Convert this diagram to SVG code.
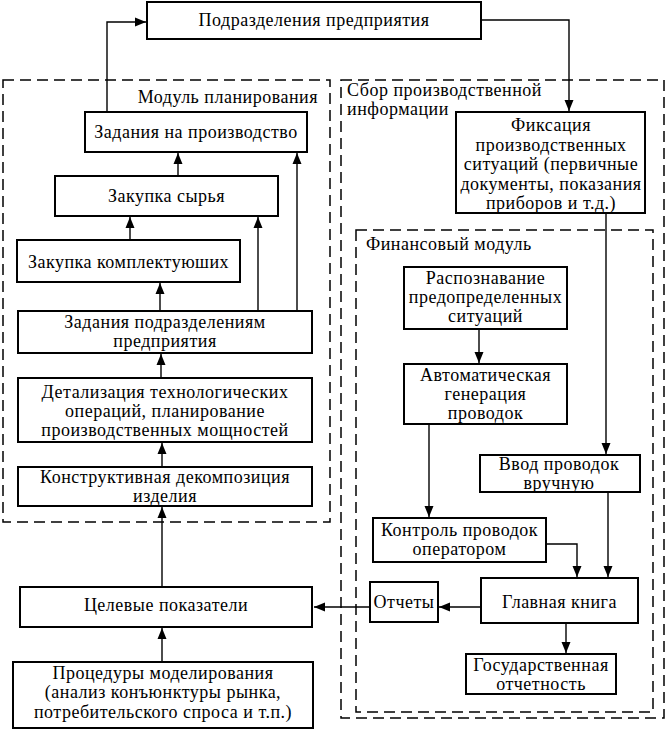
<svg xmlns="http://www.w3.org/2000/svg" width="665" height="731" viewBox="0 0 665 731">
<defs>
<marker id="ah" markerUnits="userSpaceOnUse" markerWidth="12" markerHeight="12" viewBox="0 0 12 12" refX="11" refY="6" orient="auto">
<path d="M0,1.5 L11,6 L0,10.5 Z" fill="#000"/>
</marker>
<style>
.box{fill:#fff;stroke:#000;stroke-width:2}
.grp{fill:none;stroke:#000;stroke-width:1.5;stroke-dasharray:11 6}
.t{font-family:"Liberation Serif","Times New Roman",serif;font-size:18px;letter-spacing:0.5px;fill:#000;text-anchor:middle}
.l{font-family:"Liberation Serif","Times New Roman",serif;font-size:18px;letter-spacing:0.5px;fill:#000}
.c{fill:none;stroke:#000;stroke-width:1.4;marker-end:url(#ah)}
</style>
</defs>
<rect width="665" height="731" fill="#fff"/>

<g id="group-planning">
<rect class="grp" x="3" y="80" width="327" height="442"/>
<text class="l" x="318" y="103" text-anchor="end">Модуль планирования</text>
</g>
<g id="group-collection">
<rect class="grp" x="341" y="80" width="323" height="638"/>
<text class="l" x="347" y="96">Сбор производственной</text>
<text class="l" x="347" y="115">информации</text>
</g>
<g id="group-finance">
<rect class="grp" x="356" y="230" width="297" height="482"/>
<text class="l" x="366" y="250">Финансовый модуль</text>
</g>

<g id="connectors">
<path class="c" d="M107,112 V22 H146"/>
<path class="c" d="M481,20 H569 V111"/>
<path class="c" d="M178,176 V153"/>
<path class="c" d="M297,311 V153"/>
<path class="c" d="M258,311 V217"/>
<path class="c" d="M130,240 V217"/>
<path class="c" d="M160,311 V283"/>
<path class="c" d="M161,378 V354"/>
<path class="c" d="M162,467 V443"/>
<path class="c" d="M162,587 V507"/>
<path class="c" d="M162,662 V628"/>
<path class="c" d="M370,607 H314"/>
<path class="c" d="M481,607 H439"/>
<path class="c" d="M606,213 V454"/>
<path class="c" d="M479,329 V363"/>
<path class="c" d="M429,424 V517"/>
<path class="c" d="M546,544 H577 V577"/>
<path class="c" d="M608,492 V577"/>
<path class="c" d="M566,623 V653"/>
</g>

<g id="n-podrazdeleniya">
<rect class="box" x="147" y="2" width="334" height="37"/>
<text class="t" x="314" y="26">Подразделения предприятия</text>
</g>
<g id="n-zadaniya-proizv">
<rect class="box" x="85" y="112" width="222" height="40"/>
<text class="t" x="196" y="138">Задания на производство</text>
</g>
<g id="n-zakupka-syrya">
<rect class="box" x="55" y="176" width="223" height="40"/>
<text class="t" x="166.5" y="202">Закупка сырья</text>
</g>
<g id="n-zakupka-kompl">
<rect class="box" x="17" y="240" width="223" height="42"/>
<text class="t" x="128.5" y="268">Закупка комплектуюших</text>
</g>
<g id="n-zadaniya-podr">
<rect class="box" x="18" y="311" width="294" height="42"/>
<text class="t" x="165" y="328">Задания подразделениям</text>
<text class="t" x="165" y="347">предприятия</text>
</g>
<g id="n-detalizaciya">
<rect class="box" x="18" y="378" width="294" height="64"/>
<text class="t" x="165" y="398">Детализация технологических</text>
<text class="t" x="165" y="417">операций, планирование</text>
<text class="t" x="165" y="436">производственных мощностей</text>
</g>
<g id="n-konstruktivnaya">
<rect class="box" x="18" y="467" width="294" height="39"/>
<text class="t" x="165" y="483">Конструктивная декомпозиция</text>
<text class="t" x="165" y="502">изделия</text>
</g>
<g id="n-celevye">
<rect class="box" x="20" y="587" width="292" height="40"/>
<text class="t" x="166" y="611">Целевые показатели</text>
</g>
<g id="n-procedury">
<rect class="box" x="13" y="662" width="300" height="66"/>
<text class="t" x="163" y="679">Процедуры моделирования</text>
<text class="t" x="163" y="698">(анализ конъюнктуры рынка,</text>
<text class="t" x="163" y="718">потребительского спроса и т.п.)</text>
</g>

<g id="n-fiksaciya">
<rect class="box" x="456" y="112" width="189" height="101"/>
<text class="t" x="551" y="131">Фиксация</text>
<text class="t" x="551" y="151">производственных</text>
<text class="t" x="551" y="170">ситуаций (первичные</text>
<text class="t" x="551" y="190">документы, показания</text>
<text class="t" x="551" y="209">приборов и т.д.)</text>
</g>
<g id="n-raspoznavanie">
<rect class="box" x="404" y="267" width="163" height="62"/>
<text class="t" x="485.5" y="284">Распознавание</text>
<text class="t" x="485.5" y="303">предопределенных</text>
<text class="t" x="485.5" y="322">ситуаций</text>
</g>
<g id="n-avtomaticheskaya">
<rect class="box" x="404" y="364" width="163" height="60"/>
<text class="t" x="485.5" y="381">Автоматическая</text>
<text class="t" x="485.5" y="400">генерация</text>
<text class="t" x="485.5" y="419">проводок</text>
</g>
<g id="n-vvod">
<rect class="box" x="480" y="455" width="160" height="37"/>
<text class="t" x="559" y="470">Ввод проводок</text>
<text class="t" x="559" y="489">вручную</text>
</g>
<g id="n-kontrol">
<rect class="box" x="373" y="518" width="173" height="44"/>
<text class="t" x="459.5" y="536">Контроль проводок</text>
<text class="t" x="459.5" y="555">оператором</text>
</g>
<g id="n-glavnaya">
<rect class="box" x="481" y="578" width="157" height="45"/>
<text class="t" x="559.5" y="608">Главная книга</text>
</g>
<g id="n-otchety">
<rect class="box" x="370" y="582" width="68" height="40"/>
<text class="t" x="404" y="608">Отчеты</text>
</g>
<g id="n-gosudarstvennaya">
<rect class="box" x="466" y="654" width="150" height="40"/>
<text class="t" x="541" y="671">Государственная</text>
<text class="t" x="541" y="690">отчетность</text>
</g>
</svg>
